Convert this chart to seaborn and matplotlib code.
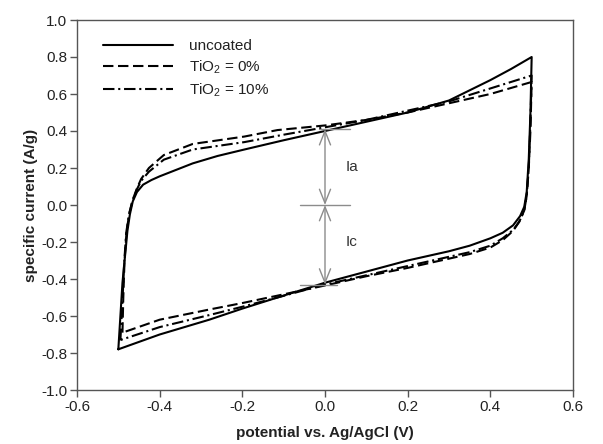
import matplotlib
matplotlib.use("Agg")
import matplotlib.pyplot as plt
import seaborn as sns
import numpy as np
import pandas as pd

# ---- data ----
uncoated_x = [-0.500, -0.495, -0.490, -0.484, -0.478, -0.472, -0.465, -0.455, -0.440, -0.420, -0.400,
              -0.360, -0.320, -0.260, -0.195, -0.100, 0.000, 0.100, 0.200, 0.300, 0.400, 0.450, 0.500,
              0.497, 0.493, 0.488, 0.482, 0.472, 0.455, 0.430, 0.400, 0.350, 0.300, 0.200, 0.100, 0.000,
              -0.115, -0.200, -0.280, -0.400, -0.500]
uncoated_y = [-0.78, -0.60, -0.42, -0.28, -0.14, -0.05, 0.02, 0.07, 0.11, 0.135, 0.155,
              0.19, 0.225, 0.265, 0.30, 0.35, 0.40, 0.45, 0.50, 0.565, 0.675, 0.735, 0.80,
              0.50, 0.25, 0.07, -0.01, -0.06, -0.11, -0.15, -0.18, -0.22, -0.25, -0.30, -0.36, -0.42,
              -0.50, -0.56, -0.62, -0.70, -0.78]

tio0_x = [-0.490, -0.488, -0.485, -0.480, -0.473, -0.465, -0.455, -0.445, -0.426, -0.390, -0.320,
          -0.195, -0.115, 0.000, 0.100, 0.200, 0.300, 0.400, 0.500,
          0.497, 0.493, 0.488, 0.482, 0.470, 0.455, 0.430, 0.400, 0.350, 0.300, 0.200, 0.100, 0.000,
          -0.115, -0.200, -0.280, -0.400, -0.490]
tio0_y = [-0.69, -0.50, -0.30, -0.14, -0.04, 0.03, 0.09, 0.14, 0.20, 0.27, 0.33,
          0.37, 0.405, 0.43, 0.46, 0.50, 0.55, 0.60, 0.665,
          0.40, 0.20, 0.05, -0.03, -0.09, -0.14, -0.19, -0.23, -0.265, -0.29, -0.34, -0.385, -0.435,
          -0.49, -0.53, -0.565, -0.62, -0.69]

tio10_x = [-0.495, -0.490, -0.486, -0.481, -0.474, -0.466, -0.455, -0.445, -0.426, -0.390, -0.320,
           -0.195, -0.100, 0.000, 0.100, 0.200, 0.300, 0.400, 0.500,
           0.497, 0.493, 0.488, 0.482, 0.470, 0.455, 0.430, 0.400, 0.350, 0.300, 0.200, 0.100, 0.000,
           -0.115, -0.200, -0.280, -0.400, -0.495]
tio10_y = [-0.73, -0.52, -0.32, -0.15, -0.05, 0.02, 0.085, 0.13, 0.18, 0.245, 0.30,
           0.34, 0.38, 0.42, 0.46, 0.51, 0.56, 0.63, 0.70,
           0.45, 0.20, 0.05, -0.03, -0.09, -0.135, -0.18, -0.22, -0.255, -0.28, -0.33, -0.38, -0.43,
           -0.50, -0.55, -0.595, -0.66, -0.73]

labels = ["uncoated", "TiO$_2$ = 0%", "TiO$_2$ = 10%"]
ia_top = 0.41
ic_bottom = -0.43

x_ticks = [-0.6, -0.4, -0.2, 0.0, 0.2, 0.4, 0.6]
y_ticks = [-1.0, -0.8, -0.6, -0.4, -0.2, 0.0, 0.2, 0.4, 0.6, 0.8, 1.0]

# ---- style ----
sns.set_style("ticks")
plt.rcParams["font.family"] = ["Liberation Sans", "DejaVu Sans"]
plt.rcParams["mathtext.fontset"] = "custom"
plt.rcParams["mathtext.rm"] = "Liberation Sans"
plt.rcParams["mathtext.it"] = "Liberation Sans:italic"

fig = plt.figure(figsize=(6.03, 4.44), dpi=100)
ax = fig.add_axes([77/603, 1-390/444, (573-77)/603, (390-20)/444])

lw = 1.5
sns.lineplot(x=uncoated_x, y=uncoated_y, sort=False, estimator=None, ax=ax,
             color="black", lw=lw, label=labels[0])
sns.lineplot(x=tio0_x, y=tio0_y, sort=False, estimator=None, ax=ax,
             color="black", lw=lw, linestyle=(0, (5.0, 2.2)), label=labels[1])
sns.lineplot(x=tio10_x, y=tio10_y, sort=False, estimator=None, ax=ax,
             color="black", lw=lw, linestyle=(0, (5.5, 1.8, 1.0, 1.8)), label=labels[2])

gray = "#8c8c8c"
# horizontal reference marks
ax.plot([-0.06, 0.06], [0, 0], color=gray, lw=1.0)
ax.plot([-0.015, 0.06], [ia_top, ia_top], color=gray, lw=1.0)
ax.plot([-0.06, 0.03], [ic_bottom, ic_bottom], color=gray, lw=1.0)
# double arrows
arrow_kw = dict(arrowstyle="<->,head_length=0.5,head_width=0.2", color=gray, lw=1.0,
                shrinkA=0, shrinkB=0, mutation_scale=20)
ax.annotate("", xy=(0, ia_top), xytext=(0, 0), arrowprops=arrow_kw)
ax.annotate("", xy=(0, ic_bottom), xytext=(0, 0), arrowprops=arrow_kw)
ax.text(0.05, 0.205, "Ia", fontsize=11, va="center", ha="left", color="#333333")
ax.text(0.05, -0.20, "Ic", fontsize=11, va="center", ha="left", color="#333333")

ax.set_xlim(-0.6, 0.6)
ax.set_ylim(-1.0, 1.0)
ax.set_xticks(x_ticks)
ax.set_yticks(y_ticks)
ax.set_xticklabels([f"{v:.1f}" for v in x_ticks], fontsize=11)
ax.set_yticklabels([f"{v:.1f}" for v in y_ticks], fontsize=11)
ax.tick_params(direction="out", length=5, width=1, color="#555555", labelcolor="#222222", pad=2)
for s in ax.spines.values():
    s.set_color("#555555")
    s.set_linewidth(1.0)
ax.set_xlabel("potential vs. Ag/AgCl (V)", fontsize=11, fontweight="bold", color="#222222", labelpad=9)
ax.set_ylabel("specific current (A/g)", fontsize=11, fontweight="bold", color="#222222", labelpad=2)

leg = ax.legend(loc="upper left", bbox_to_anchor=(0.025, 0.985), frameon=False, fontsize=11,
                handlelength=4.6, handletextpad=1.0, labelspacing=0.35)
for t in leg.get_texts():
    t.set_color("#222222")

fig.savefig("out.png", dpi=100)
